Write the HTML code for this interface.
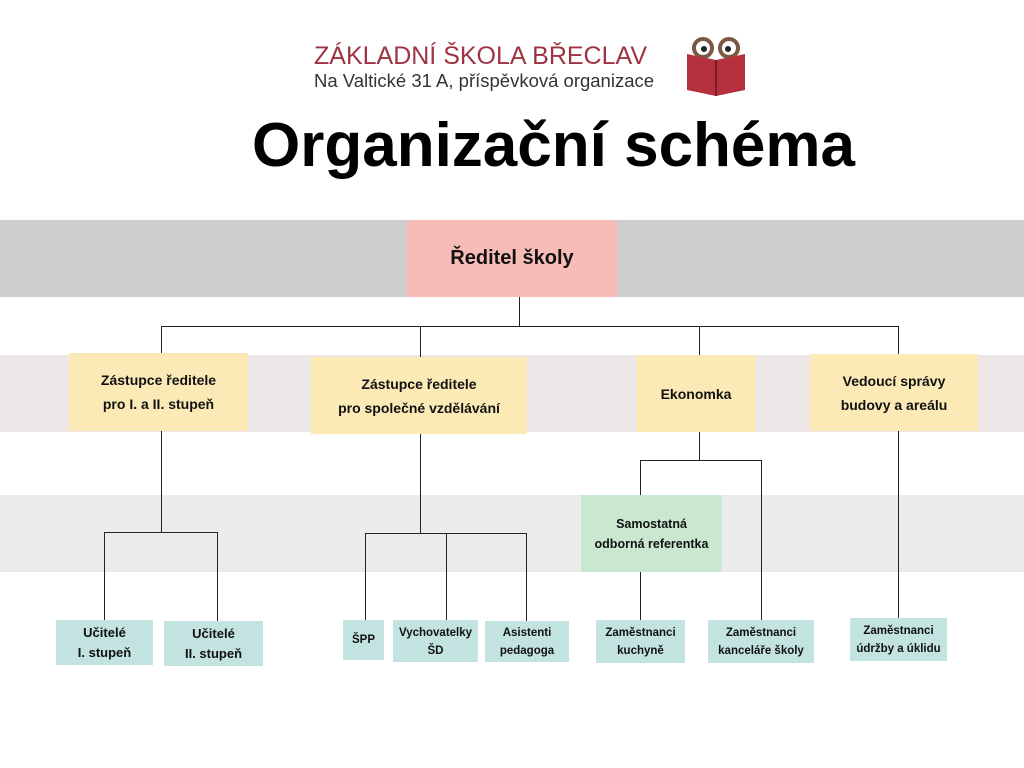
<!DOCTYPE html>
<html><head><meta charset="utf-8"><style>
body{margin:0;width:1024px;height:768px;background:#fff;position:relative;overflow:hidden;font-family:"Liberation Sans",sans-serif}
div{position:absolute;box-sizing:border-box}
.b{display:flex;align-items:center;justify-content:center;text-align:center;font-weight:bold;color:#111}
.y{background:#fbeab6;font-size:14px;line-height:24px}
.t{background:#c3e3e1;font-size:11.5px;line-height:18px}
.l{background:#222}
</style></head><body>
<div style="left:0;top:220px;width:1024px;height:77px;background:#cfcfcf"></div>
<div style="left:0;top:355px;width:1024px;height:77px;background:#ece6e6"></div>
<div style="left:0;top:495px;width:1024px;height:77px;background:#ebebeb"></div>

<div style="left:314px;top:42px;font-size:25px;color:#9e3442;white-space:nowrap">ZÁKLADNÍ ŠKOLA BŘECLAV</div>
<div style="left:314px;top:70px;font-size:18.5px;color:#333;white-space:nowrap">Na Valtické 31 A, příspěvková organizace</div>
<svg style="position:absolute;left:685px;top:36px" width="64" height="62"><circle cx="18" cy="12" r="9" fill="#fff" stroke="#7a5a44" stroke-width="4"/><circle cx="44" cy="12" r="9" fill="#fff" stroke="#7a5a44" stroke-width="4"/><circle cx="19" cy="13" r="3" fill="#222"/><circle cx="43" cy="13" r="3" fill="#222"/><path d="M2 18 L31 24 L60 18 L60 54 L31 60 L2 54Z" fill="#b3303c"/><line x1="31" y1="24" x2="31" y2="60" stroke="#7a1e26" stroke-width="2"/></svg>
<div style="left:252px;top:110px;font-size:62px;font-weight:bold;color:#000;white-space:nowrap">Organizační schéma</div>

<div class="b" style="left:407px;top:220px;width:210px;height:77px;background:#f8bcb7;font-size:20px">Ředitel školy</div>

<div class="l" style="left:519px;top:297px;width:1px;height:29px"></div>
<div class="l" style="left:161px;top:326px;width:738px;height:1px"></div>
<div class="l" style="left:161px;top:326px;width:1px;height:206px"></div>
<div class="l" style="left:420px;top:326px;width:1px;height:207px"></div>
<div class="l" style="left:699px;top:326px;width:1px;height:134px"></div>
<div class="l" style="left:898px;top:326px;width:1px;height:292px"></div>
<div class="l" style="left:104px;top:532px;width:114px;height:1px"></div>
<div class="l" style="left:104px;top:532px;width:1px;height:88px"></div>
<div class="l" style="left:217px;top:532px;width:1px;height:89px"></div>
<div class="l" style="left:365px;top:533px;width:162px;height:1px"></div>
<div class="l" style="left:365px;top:533px;width:1px;height:87px"></div>
<div class="l" style="left:446px;top:533px;width:1px;height:87px"></div>
<div class="l" style="left:526px;top:533px;width:1px;height:88px"></div>
<div class="l" style="left:640px;top:460px;width:122px;height:1px"></div>
<div class="l" style="left:640px;top:460px;width:1px;height:160px"></div>
<div class="l" style="left:761px;top:460px;width:1px;height:160px"></div>

<div class="b y" style="left:69px;top:353px;width:179px;height:78px">Zástupce ředitele<br>pro I. a II. stupeň</div>
<div class="b y" style="left:311px;top:357px;width:216px;height:77px">Zástupce ředitele<br>pro společné vzdělávání</div>
<div class="b y" style="left:637px;top:355px;width:118px;height:77px">Ekonomka</div>
<div class="b y" style="left:810px;top:354px;width:168px;height:77px">Vedoucí správy<br>budovy a areálu</div>
<div class="b" style="left:581px;top:495px;width:141px;height:77px;background:#c9e8cf;font-size:12.5px;line-height:20px">Samostatná<br>odborná referentka</div>

<div class="b t" style="left:56px;top:620px;width:97px;height:45px;font-size:13px;line-height:20px">Učitelé<br>I. stupeň</div>
<div class="b t" style="left:164px;top:621px;width:99px;height:45px;font-size:13px;line-height:20px">Učitelé<br>II. stupeň</div>
<div class="b t" style="left:343px;top:620px;width:41px;height:40px">ŠPP</div>
<div class="b t" style="left:393px;top:620px;width:85px;height:42px;align-items:flex-start;padding-top:4px">Vychovatelky<br>ŠD</div>
<div class="b t" style="left:485px;top:621px;width:84px;height:41px">Asistenti<br>pedagoga</div>
<div class="b t" style="left:596px;top:620px;width:89px;height:43px">Zaměstnanci<br>kuchyně</div>
<div class="b t" style="left:708px;top:620px;width:106px;height:43px">Zaměstnanci<br>kanceláře školy</div>
<div class="b t" style="left:850px;top:618px;width:97px;height:43px">Zaměstnanci<br>údržby a úklidu</div>
</body></html>
